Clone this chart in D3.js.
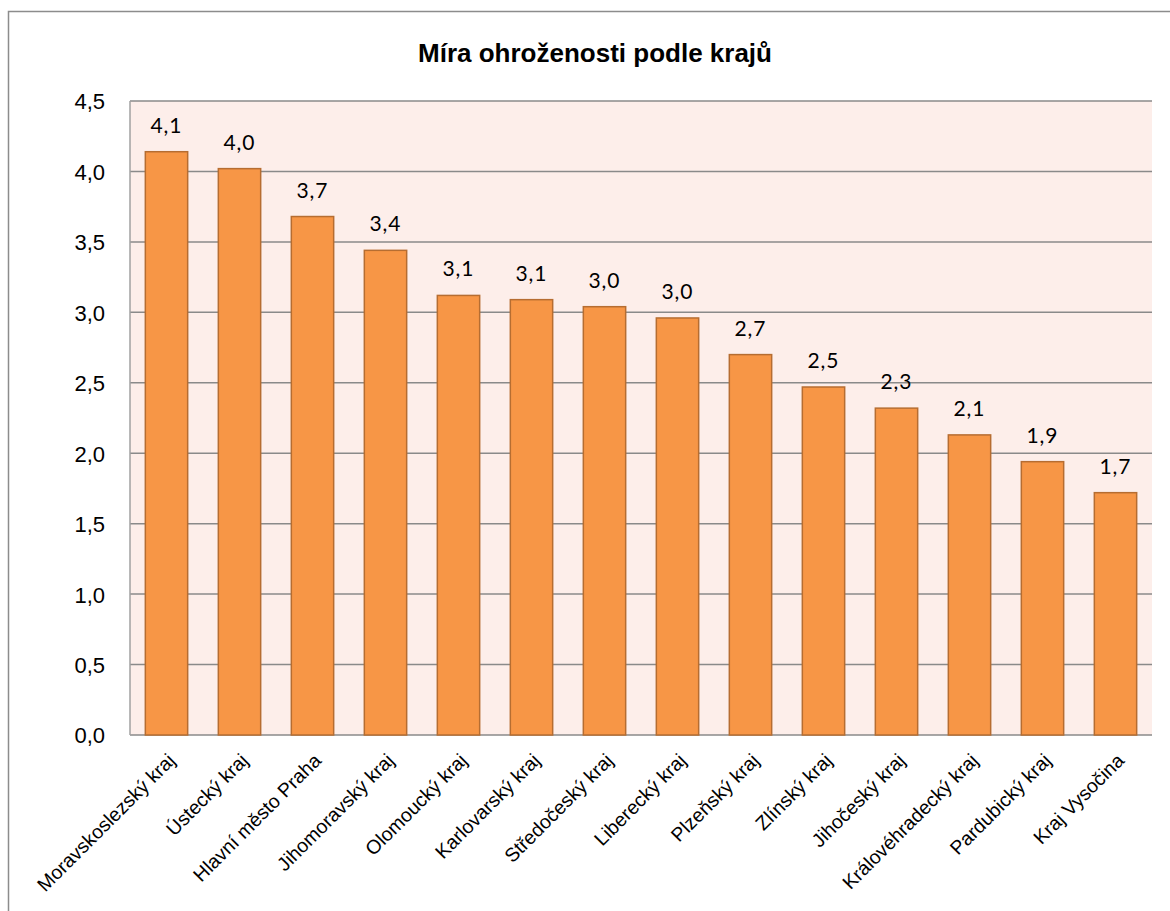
<!DOCTYPE html>
<html>
<head>
<meta charset="utf-8">
<script src="https://cdn.jsdelivr.net/npm/d3@7"></script>
<style>
  body { margin: 0; background: #fff; }
  svg { display: block; }
</style>
</head>
<body>
<div id="chart"></div>
<script>
const regions = ["Moravskoslezský kraj", "Ústecký kraj", "Hlavní město Praha", "Jihomoravský kraj",
  "Olomoucký kraj", "Karlovarský kraj", "Středočeský kraj", "Liberecký kraj", "Plzeňský kraj",
  "Zlínský kraj", "Jihočeský kraj", "Královéhradecký kraj", "Pardubický kraj", "Kraj Vysočina"]
const values = [4.14, 4.02, 3.68, 3.44, 3.12, 3.09, 3.04, 2.96, 2.70, 2.47, 2.32, 2.13, 1.94, 1.72]
const yTicks = [0, 0.5, 1, 1.5, 2, 2.5, 3, 3.5, 4, 4.5]
const title = "Míra ohroženosti podle krajů"

const width = 1170
const height = 911
const margin = ({top: 101, right: 18, bottom: 176, left: 130})

const data = regions.map((r, i) => ({region: r, value: values[i]}))
const fmt = v => v.toFixed(1).replace(".", ",")

const x = d3.scaleBand()
  .domain(regions)
  .range([margin.left, width - margin.right])
  .paddingInner(0.42)
  .paddingOuter(0.21)

const y = d3.scaleLinear()
  .domain([0, 4.5])
  .range([height - margin.bottom, margin.top])

const svg = d3.select("#chart").append("svg")
  .attr("width", width)
  .attr("height", height)

// outer frame
svg.append("rect")
  .attr("x", 8.5).attr("y", 11.5)
  .attr("width", width).attr("height", height)
  .attr("fill", "#fff")
  .attr("stroke", "#8c8c8c")
  .attr("stroke-width", 1.5)

// plot background
svg.append("rect")
  .attr("x", margin.left).attr("y", margin.top)
  .attr("width", width - margin.right - margin.left)
  .attr("height", y(0) - margin.top)
  .attr("fill", "#fdeeea")

// grid lines
svg.append("g")
  .selectAll("line")
  .data(yTicks)
  .join("line")
  .attr("x1", margin.left).attr("x2", width - margin.right)
  .attr("y1", d => y(d)).attr("y2", d => y(d))
  .attr("stroke", "#8a8a8a")
  .attr("stroke-width", 1.5)

// left axis line
svg.append("line")
  .attr("x1", margin.left).attr("x2", margin.left)
  .attr("y1", y(4.5)).attr("y2", y(0))
  .attr("stroke", "#a0a0a0")
  .attr("stroke-width", 1.5)

// y axis labels
const yAxis = g => g
  .attr("transform", `translate(${margin.left},0)`)
  .call(d3.axisLeft(y).tickValues(yTicks).tickSize(0).tickPadding(25).tickFormat(fmt))
  .call(g => g.select(".domain").remove())
  .call(g => g.selectAll("text")
    .attr("font-family", "Liberation Sans, Arial, sans-serif")
    .attr("font-size", 22)
    .attr("dy", "0.36em")
    .attr("fill", "#000"))

svg.append("g").call(yAxis)

// bars
svg.append("g")
  .selectAll("rect")
  .data(data)
  .join("rect")
  .attr("x", d => x(d.region))
  .attr("y", d => y(d.value))
  .attr("width", x.bandwidth())
  .attr("height", d => y(0) - y(d.value))
  .attr("fill", "#f79646")
  .attr("stroke", "#b66d31")
  .attr("stroke-width", 1.5)

// value labels
svg.append("g")
  .selectAll("text")
  .data(data)
  .join("text")
  .attr("x", d => x(d.region) + x.bandwidth() / 2)
  .attr("y", d => y(d.value) - 19)
  .attr("text-anchor", "middle")
  .attr("font-family", "Lato, Open Sans, sans-serif")
  .attr("font-size", 21)
  .attr("letter-spacing", 1)
  .attr("fill", "#000")
  .text(d => fmt(d.value))

// x labels
svg.append("g")
  .selectAll("text")
  .data(regions)
  .join("text")
  .attr("transform", d => `translate(${x(d) + x.bandwidth() / 2 + 5},${y(0) + 22}) rotate(-45)`)
  .attr("text-anchor", "end")
  .attr("dy", "0.35em")
  .attr("font-family", "Liberation Sans, Arial, sans-serif")
  .attr("font-size", 19.5)
  .attr("fill", "#000")
  .text(d => d)

// title
svg.append("text")
  .attr("x", 595).attr("y", 62)
  .attr("text-anchor", "middle")
  .attr("font-family", "Liberation Sans, Arial, sans-serif")
  .attr("font-weight", "bold")
  .attr("font-size", 26)
  .text(title)
</script>
</body>
</html>
